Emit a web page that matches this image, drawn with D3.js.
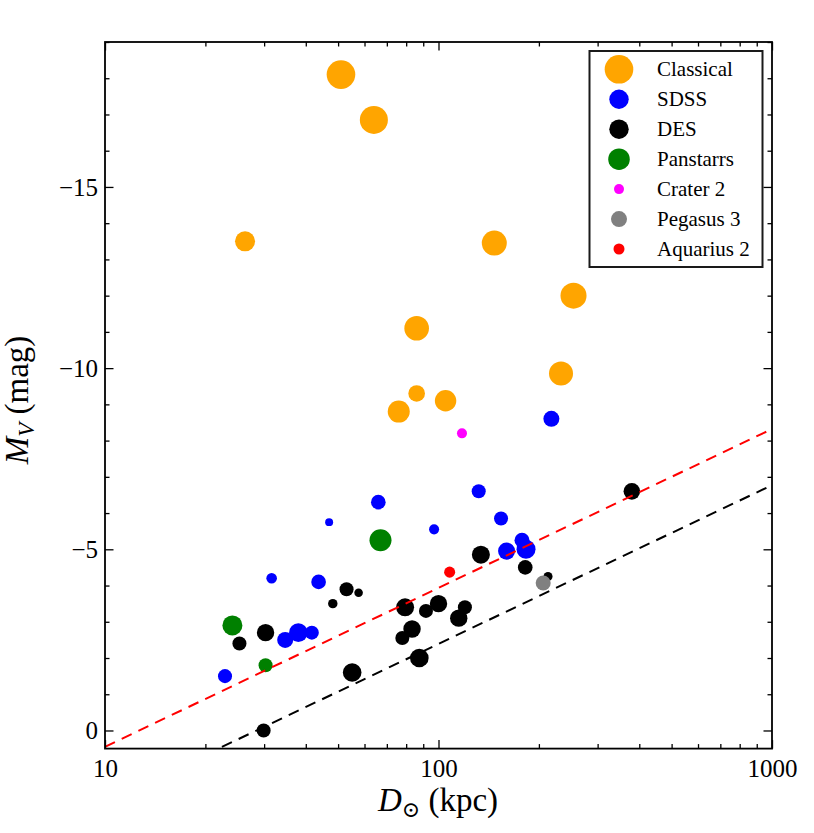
<!DOCTYPE html>
<html>
<head lang="en">
    <meta charset="UTF-8">
    <title></title>
    <style>
        body { margin: 0; background: #fff; }
        svg text { font-family: "Liberation Serif", "DejaVu Serif", serif; fill: #000; }
    </style>
</head>
<body>
    <div id="graph"></div>

<script src="https://cdn.jsdelivr.net/npm/d3@7"></script>
<script>
    // 各グループのデータ (距離 kpc, 等級, マーカー面積)
    var classicalD = [51, 64, 26.3, 147, 254, 86, 233, 86, 105, 76];
    var classicalM = [-18.1, -16.85, -13.5, -13.45, -12.0, -11.1, -9.85, -9.3, -9.1, -8.8];
    var classicalS = [424, 407, 208, 324, 351, 314, 299, 143, 238, 251];

    var sdssD = [218, 132, 66, 47, 97, 154, 178, 160, 183, 31.6, 43.7, 38, 41.7, 34.7, 22.9];
    var sdssM = [-8.6, -6.6, -6.3, -5.75, -5.55, -5.85, -5.25, -4.95, -5.0, -4.2, -4.1, -2.7, -2.7, -2.5, -1.5];
    var sdssS = [133, 102, 111, 33, 52, 102, 117, 150, 187, 58, 111, 180, 102, 133, 102];

    var desD = [380, 134, 182, 213, 53, 57.6, 48.2, 79.4, 91.7, 100, 120, 115, 83.3, 77.9, 30.3, 25.3, 87.6, 55.1, 29.9];
    var desM = [-6.6, -4.85, -4.5, -4.25, -3.9, -3.8, -3.5, -3.4, -3.3, -3.5, -3.4, -3.1, -2.8, -2.55, -2.7, -2.4, -2.0, -1.6, 0.0];
    var desS = [143, 168, 111, 42, 102, 38, 46, 168, 102, 157, 102, 157, 157, 102, 157, 102, 180, 180, 102];

    var panD = [67, 24.1, 30.3];
    var panM = [-5.25, -2.9, -1.8];
    var panS = [251, 207, 102];

    var craterD = [117.6], craterM = [-8.2], craterS = [52];
    var pegasusD = [206], pegasusM = [-4.07], pegasusS = [117];
    var aquariusD = [108], aquariusM = [-4.37], aquariusS = [63];

    // 破線 (検出限界)
    var limitD = [10, 1000];
    var redLimitM = [0.45, -8.32];
    var blackLimitM = [1.99, -6.77];

    var xTicks = [10, 100, 1000];
    var yTicks = [0, -5, -10, -15];

    function pts(ds, ms, ss) {
        return ds.map(function(d, i){ return {d: d, m: ms[i], s: ss ? ss[i] : 0}; });
    }

    var series = [
        {name: "Classical",  color: "#ffa500", data: pts(classicalD, classicalM, classicalS), ls: 424},
        {name: "SDSS",       color: "#0000ff", data: pts(sdssD, sdssM, sdssS), ls: 195},
        {name: "DES",        color: "#000000", data: pts(desD, desM, desS), ls: 195},
        {name: "Panstarrs",  color: "#008000", data: pts(panD, panM, panS), ls: 240},
        {name: "Crater 2",   color: "#ff00ff", data: pts(craterD, craterM, craterS), ls: 52},
        {name: "Pegasus 3",  color: "#808080", data: pts(pegasusD, pegasusM, pegasusS), ls: 133},
        {name: "Aquarius 2", color: "#ff0000", data: pts(aquariusD, aquariusM, aquariusS), ls: 63}
    ];

    var W = 814, H = 833;
    var m = {left: 105, right: 42, top: 42, bottom: 84.4};

    var svg = d3.select("#graph").append("svg")
        .attr("width", W).attr("height", H);

    var x = d3.scaleLog().domain([10, 1000]).range([m.left, W - m.right]);
    var y = d3.scaleLinear().domain([0.5, -19]).range([H - m.bottom, m.top]);
    var r = d3.scaleSqrt().domain([0, 400]).range([0, 13.9]);

    svg.append("clipPath").attr("id", "clip").append("rect")
        .attr("x", m.left).attr("y", m.top)
        .attr("width", W - m.left - m.right).attr("height", H - m.top - m.bottom);

    var plot = svg.append("g").attr("clip-path", "url(#clip)");

    // 点
    series.forEach(function(s){
        plot.append("g").selectAll("circle").data(s.data).enter().append("circle")
            .attr("cx", function(d){ return x(d.d); })
            .attr("cy", function(d){ return y(d.m); })
            .attr("r", function(d){ return r(d.s); })
            .attr("fill", s.color);
    });

    // 破線
    var line = d3.line().x(function(d){ return x(d[0]); }).y(function(d){ return y(d[1]); });
    [[redLimitM, "#ff0000"], [blackLimitM, "#000000"]].forEach(function(l){
        plot.append("path")
            .attr("d", line(limitD.map(function(d, i){ return [d, l[0][i]]; })))
            .attr("fill", "none").attr("stroke", l[1])
            .attr("stroke-width", 2).attr("stroke-dasharray", "11,7.5");
    });

    // 軸
    var xMinor = [];
    [10, 100].forEach(function(b){ for (var k = 2; k < 10; k++) xMinor.push(b * k); });
    var yMinor = d3.range(0, -20, -1).filter(function(v){ return v % 5 !== 0; });
    var fmtY = function(d){ return d === 0 ? "0" : "\u2212" + Math.abs(d); };

    function axis(gen, tr, vals, size, fmt) {
        var g = svg.append("g").attr("transform", tr)
            .call(gen.tickValues(vals).tickSize(-size).tickPadding(8).tickFormat(fmt || ""));
        g.select(".domain").remove();
        g.selectAll("line").attr("stroke", "#000").attr("stroke-width", 1.3);
        return g;
    }

    var bottom = axis(d3.axisBottom(x), "translate(0," + (H - m.bottom) + ")", xTicks, 8.5, d3.format("d"));
    bottom.selectAll("text").attr("font-size", 25).attr("y", 28).attr("dy", 0);
    axis(d3.axisBottom(x), "translate(0," + (H - m.bottom) + ")", xMinor, 4.5);
    axis(d3.axisTop(x), "translate(0," + m.top + ")", xTicks, 8.5);
    axis(d3.axisTop(x), "translate(0," + m.top + ")", xMinor, 4.5);

    var left = axis(d3.axisLeft(y), "translate(" + m.left + ",0)", yTicks, 8.5, fmtY);
    left.selectAll("text").attr("font-size", 25).attr("x", -7).attr("dy", "0.33em");
    axis(d3.axisLeft(y), "translate(" + m.left + ",0)", yMinor, 4.5);
    axis(d3.axisRight(y), "translate(" + (W - m.right) + ",0)", yTicks, 8.5);
    axis(d3.axisRight(y), "translate(" + (W - m.right) + ",0)", yMinor, 4.5);

    svg.append("rect")
        .attr("x", m.left).attr("y", m.top)
        .attr("width", W - m.left - m.right).attr("height", H - m.top - m.bottom)
        .attr("fill", "none").attr("stroke", "#000").attr("stroke-width", 1.8);

    // 軸ラベル
    var xl = svg.append("text").attr("x", 438).attr("y", 811)
        .attr("text-anchor", "middle").attr("font-size", 33);
    xl.append("tspan").attr("font-style", "italic").text("D");
    xl.append("tspan").attr("font-size", 22).attr("dy", 6).text("\u2299");
    xl.append("tspan").attr("dy", -6).text(" (kpc)");

    var yl = svg.append("text").attr("transform", "translate(28,400) rotate(-90)")
        .attr("text-anchor", "middle").attr("font-size", 33);
    yl.append("tspan").attr("font-style", "italic").text("M");
    yl.append("tspan").attr("font-style", "italic").attr("font-size", 23).attr("dy", 6).text("V");
    yl.append("tspan").attr("dy", -6).text(" (mag)");

    // 凡例
    var lg = svg.append("g");
    lg.append("rect").attr("x", 589.5).attr("y", 51).attr("width", 173).attr("height", 216)
        .attr("fill", "#fff").attr("stroke", "#1a1a1a").attr("stroke-width", 2);
    series.forEach(function(s, i){
        var cy = 69.3 + i * 29.95;
        lg.append("circle").attr("cx", 619).attr("cy", cy).attr("r", r(s.ls)).attr("fill", s.color);
        lg.append("text").attr("x", 657).attr("y", cy + 7).attr("font-size", 21).text(s.name);
    });
</script>
</body>
</html>
